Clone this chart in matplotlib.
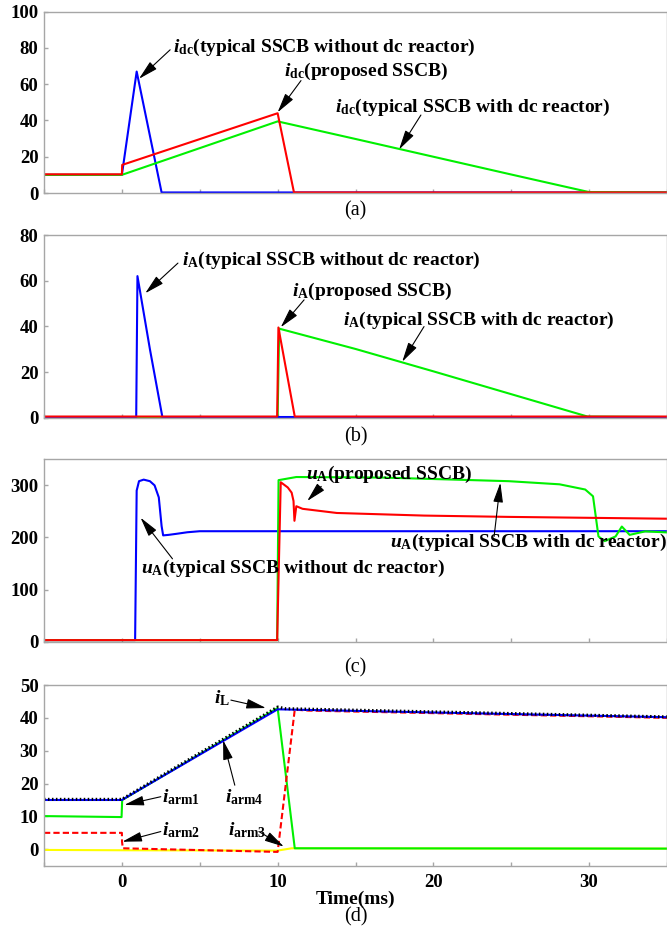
import matplotlib
matplotlib.use('Agg')
import matplotlib.pyplot as plt
import matplotlib as mpl

# chart style settings
mpl.rc('font', family='Liberation Serif', weight='bold', size=13)
mpl.rc('mathtext', fontset='custom', rm='Liberation Serif:bold',
       it='Liberation Serif:italic:bold', bf='Liberation Serif:bold')

BLUE = '#0000ff'
RED = '#ff0000'
GREEN = '#00f000'
YELLOW = '#ffff00'
GREY = '#a6a6a6'

# (a) dc current
a_blue_t = [-5, 0, 0.95, 2.55, 35]
a_blue_v = [10, 10, 67, 0.3, 0.3]
a_red_t = [-5, 0, 0.02, 10, 11.05, 35]
a_red_v = [10.3, 10.3, 15.5, 44, 0.3, 0.3]
a_green_t = [-5, 0, 10, 15, 20, 25, 30, 35]
a_green_v = [10, 10, 39.5, 29.8, 20.0, 10.2, 0.5, 0.3]

# (b) branch current iA
b_blue_t = [-5, 0.92, 1.0, 1.8, 2.6, 35]
b_blue_v = [0.3, 0.3, 62, 30, 0.3, 0.3]
b_red_t = [-5, 9.97, 10.05, 11.1, 35]
b_red_v = [0.5, 0.5, 39.5, 0.5, 0.5]
b_green_t = [-5, 10.0, 10.1, 15, 20, 25, 29.9, 35]
b_green_v = [0.3, 0.3, 39, 30.1, 20.3, 10.3, 0.5, 0.3]

# (c) voltage uA
c_blue_t = [-5, 0.85, 0.95, 1.1, 1.4, 1.8, 2.1, 2.37, 2.55, 2.65, 3.0, 3.5, 4.2, 5.0, 35]
c_blue_v = [3, 3, 290, 308, 311, 308, 300, 277, 222, 204, 205, 207, 210, 212, 212]
c_red_t = [-5, 9.97, 10.2, 10.65, 10.9, 11.02, 11.08, 11.2, 11.6, 13.8, 19.4, 24.8, 35]
c_red_v = [3, 3, 306, 296, 286, 270, 232, 260, 255, 247, 242, 239.5, 236]
c_green_t = [-5, 9.97, 10.06, 11.2, 16.7, 24.85, 28.1, 29.75, 30.25, 30.6, 31.0,
             31.7, 32.1, 32.6, 33.6, 35]
c_green_v = [3, 3, 310, 316, 315, 308, 302, 292, 279, 202, 193, 202, 221, 205, 211.7, 209.7]

# (d) arm currents
d_il_t = [-5, 0, 10, 10.5, 35]
d_il_v = [15.2, 15.2, 43.3, 42.8, 40.3]
d_arm4_t = [-5, 0, 10, 11, 35]
d_arm4_v = [15, 15, 42.6, 42.5, 40.2]
d_arm1_t = [-5, -0.02, 0.02, 10, 11.1, 35]
d_arm1_v = [10.1, 9.8, 15, 43, 0.3, 0.2]
d_arm2_t = [-5, 0, 0.01, 0.06, 10, 11.1, 12, 35]
d_arm2_v = [5, 5, 2.3, 0.3, -0.8, 42.5, 42.2, 40]
d_arm3_t = [-5, 0, 10, 10.9, 35]
d_arm3_v = [-0.2, -0.3, -0.4, 0.3, 0.2]

fig = plt.figure(figsize=(6.67, 9.38), dpi=100)
left, width = 44 / 667, 1 - 44 / 667
boxes = [(11.7, 193), (235, 417.7), (459.3, 641.7), (685, 865.7)]
axs = []
for top, bottom in boxes:
    ax = fig.add_axes([left, 1 - bottom / 938, width, (bottom - top) / 938])
    axs.append(ax)

ylims = [(0, 100), (0, 80), (0, 350), (-5, 50)]
yticks = [range(0, 101, 20), range(0, 81, 20), range(0, 301, 100), range(0, 51, 10)]
for ax, yl, yt in zip(axs, ylims, yticks):
    ax.set_xlim(-5, 35)
    ax.set_ylim(*yl)
    ax.set_yticks(list(yt))
    ax.set_xticks([0, 10, 20, 30])
    ax.set_xticks([-5, 5, 15, 25, 35], minor=True)
    for s in ax.spines.values():
        s.set_color(GREY)
        s.set_linewidth(1)
    ax.tick_params(which='both', direction='in', length=3, color=GREY, width=1,
                   labelsize=13.5)
    ax.tick_params(axis='y', pad=4)
    ax.tick_params(axis='x', pad=6)
for ax in axs[:3]:
    ax.tick_params(axis='x', labelbottom=False)

lw = 1.5
arrow = dict(arrowstyle='-|>,head_length=1.2,head_width=0.3', color='black',
             lw=0.8, mutation_scale=10, shrinkA=0, shrinkB=0)


def note(ax, text, pos, tail, tip, size=14):
    ax.text(pos[0], pos[1], text, ha='left', va='center', fontsize=size, zorder=6)
    ax.annotate('', xy=tip, xytext=tail, arrowprops=arrow, zorder=7)


# (a)
ax = axs[0]
ax.plot(a_blue_t, a_blue_v, color=BLUE, lw=lw)
ax.plot(a_green_t, a_green_v, color=GREEN, lw=lw)
ax.plot(a_red_t, a_red_v, color=RED, lw=lw)
note(ax, r'$i_{\rm dc}$(typical SSCB without dc reactor)', (3.3, 80.5), (3.1, 79), (1.1, 63))
note(ax, r'$i_{\rm dc}$(proposed SSCB)', (10.4, 67), (11.5, 62), (10.0, 44.5))
note(ax, r'$i_{\rm dc}$(typical SSCB with dc reactor)', (13.7, 47), (19.2, 43), (17.8, 24))

# (b)
ax = axs[1]
ax.plot(b_green_t, b_green_v, color=GREEN, lw=lw)
ax.plot(b_blue_t, b_blue_v, color=BLUE, lw=lw)
ax.plot(b_red_t, b_red_v, color=RED, lw=lw)
note(ax, r'$i_{\rm A}$(typical SSCB without dc reactor)', (3.85, 69), (3.6, 67.7), (1.5, 54.5))
note(ax, r'$i_{\rm A}$(proposed SSCB)', (10.9, 55.3), (11.7, 51.6), (10.2, 39.6))
note(ax, r'$i_{\rm A}$(typical SSCB with dc reactor)', (14.2, 42.8), (19.4, 39.9), (18.0, 24.5))

# (c)
ax = axs[2]
ax.plot(c_blue_t, c_blue_v, color=BLUE, lw=lw)
ax.plot(c_green_t, c_green_v, color=GREEN, lw=lw)
ax.plot(c_red_t, c_red_v, color=RED, lw=lw)
note(ax, r'$u_{\rm A}$(proposed SSCB)', (11.8, 321), (12.8, 298), (11.9, 270))
note(ax, r'$u_{\rm A}$(typical SSCB with dc reactor)', (17.2, 190), (23.9, 202), (24.3, 305))
note(ax, r'$u_{\rm A}$(typical SSCB without dc reactor)', (1.25, 141), (3.25, 159), (1.2, 238))

# (d)
ax = axs[3]
ax.plot(d_arm3_t, d_arm3_v, color=YELLOW, lw=lw)
ax.plot(d_arm1_t, d_arm1_v, color=GREEN, lw=lw)
ax.plot(d_arm2_t, d_arm2_v, color=RED, lw=lw, dashes=(3, 1.5))
ax.plot(d_arm4_t, d_arm4_v, color=BLUE, lw=lw)
ax.plot(d_il_t, d_il_v, color='black', lw=2.2, dashes=(0.5, 0.8))
note(ax, r'$i_{\rm L}$', (5.9, 46), (7.0, 45.4), (9.25, 43))
note(ax, r'$i_{\rm arm1}$', (2.6, 15.8), (2.5, 16), (0.16, 13.5))
note(ax, r'$i_{\rm arm2}$', (2.6, 5.7), (2.5, 5.4), (0.03, 2.3))
note(ax, r'$i_{\rm arm4}$', (6.6, 15.8), (7.25, 19.5), (6.5, 33.2))
note(ax, r'$i_{\rm arm3}$', (6.8, 5.7), (8.8, 5.4), (10.4, 0.8))

cx = left + width / 2
for y, lab in zip([210.7, 436.7, 668.3, 917], ['(a)', '(b)', '(c)', '(d)']):
    fig.text(cx, 1 - y / 938, lab, ha='center', va='center', fontsize=14.5,
             fontweight='normal')
fig.text(cx, 1 - 899 / 938, 'Time(ms)', ha='center', va='center', fontsize=14)

fig.savefig('out.png', dpi=100)
